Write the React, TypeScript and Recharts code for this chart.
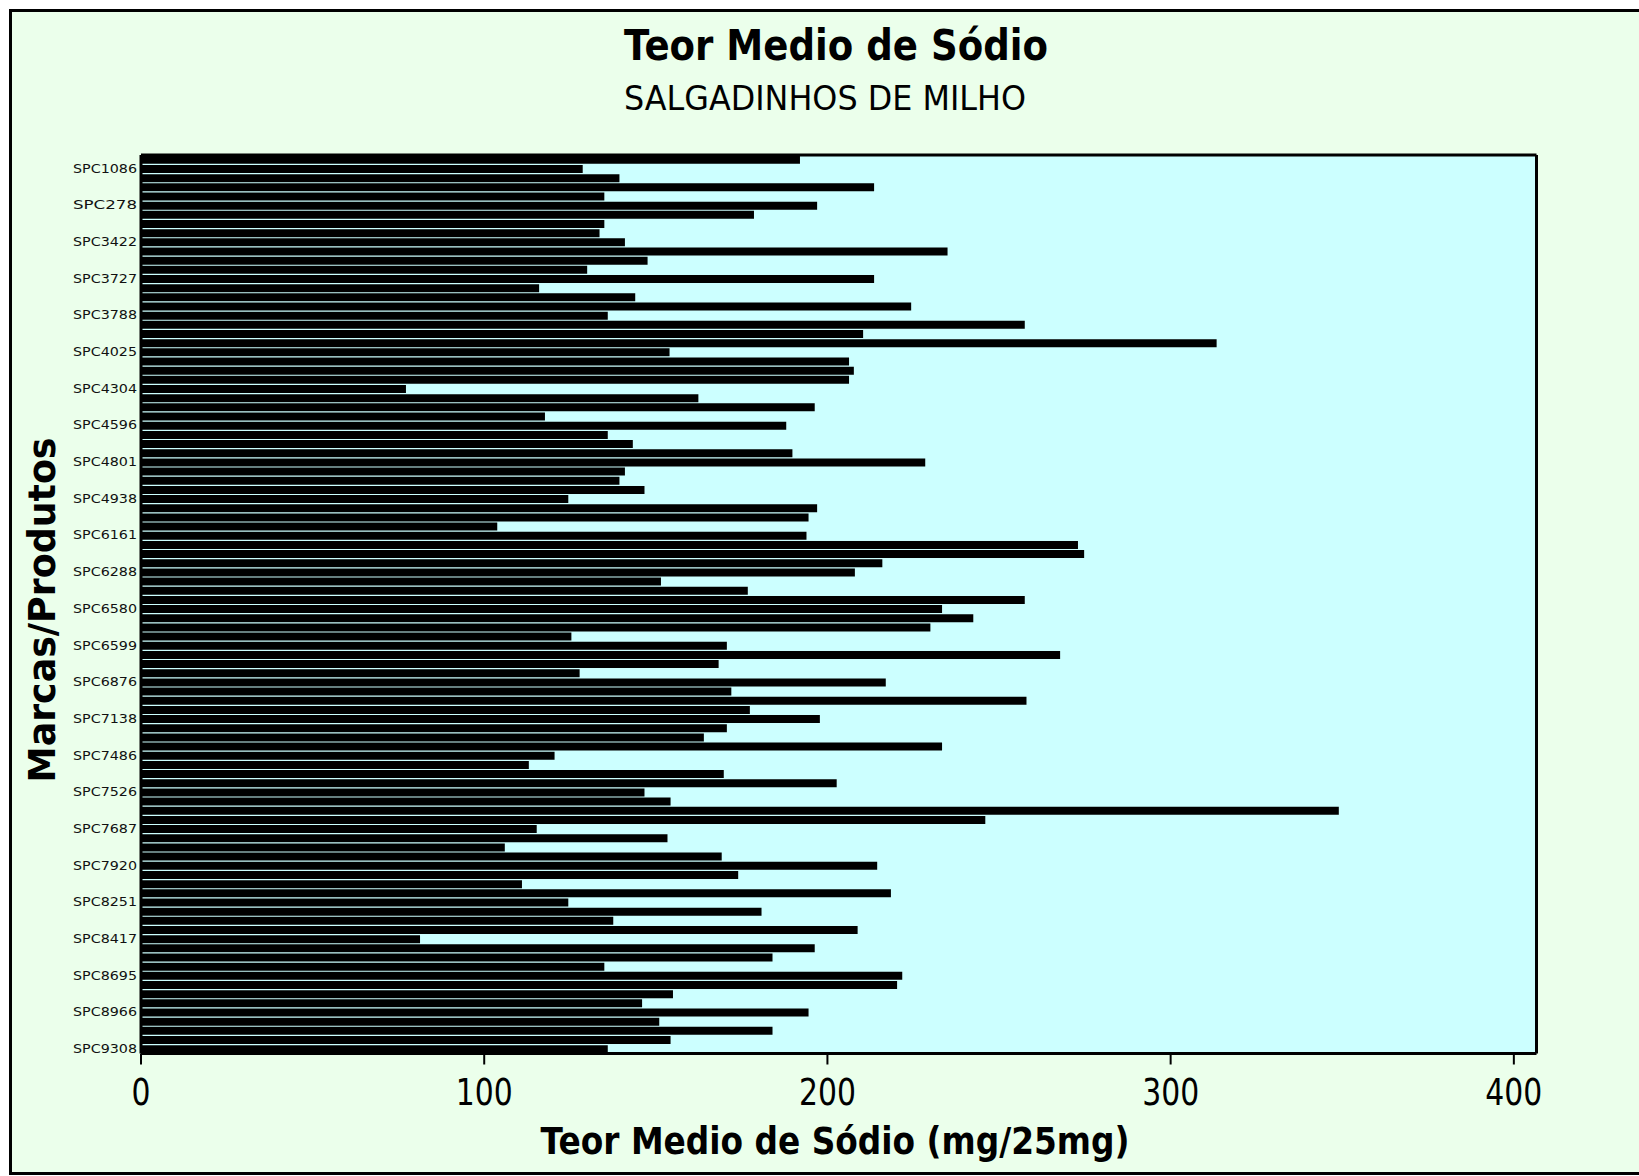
import React from "react";
import {
  BarChart,
  Bar,
  XAxis,
  YAxis,
  CartesianGrid,
  Tooltip,
} from "recharts";

// teor medio de sodio, um valor por produto, de cima para baixo
const sodio = [
  192, 128.7, 139.4, 213.6, 135, 197, 178.6, 135, 133.6, 141,
  235, 147.6, 130, 213.6, 116, 144, 224.4, 136, 257.5, 210.4,
  313.4, 154, 206.3, 207.7, 206.3, 77.2, 162.4, 196.3, 117.7, 188,
  136, 143.3, 189.8, 228.5, 141, 139.4, 146.7, 124.5, 197, 194.5,
  103.8, 193.9, 273, 274.8, 216, 208, 151.5, 176.8, 257.5, 233.4,
  242.5, 230, 125.4, 170.7, 267.8, 168.3, 127.8, 217, 172, 258,
  177.4, 197.8, 170.7, 164, 233.4, 120.5, 113, 169.8, 202.7, 146.7,
  154.3, 349, 246, 115.3, 153.4, 106, 169.2, 214.5, 174, 111,
  218.5, 124.5, 180.8, 137.6, 208.8, 81.3, 196.3, 184, 135, 221.8,
  220.3, 155, 146, 194.5, 151, 184, 154.3, 136,
];

// rotulos visiveis do eixo (um a cada quatro produtos, a partir do segundo)
const rotulos = [
  "SPC1086", "SPC278", "SPC3422", "SPC3727", "SPC3788",
  "SPC4025", "SPC4304", "SPC4596", "SPC4801", "SPC4938",
  "SPC6161", "SPC6288", "SPC6580", "SPC6599", "SPC6876",
  "SPC7138", "SPC7486", "SPC7526", "SPC7687", "SPC7920",
  "SPC8251", "SPC8417", "SPC8695", "SPC8966", "SPC9308",
];

const xTicks = [0, 100, 200, 300, 400];

const data = sodio.map((v, i) => ({ id: i, sodio: v }));

const FONT = "'DejaVu Sans', Verdana, sans-serif";
const borda = { stroke: "#000", strokeWidth: 3 };

function rotuloDe(i: number) {
  return i % 4 === 1 ? rotulos[(i - 1) / 4] : "";
}

function YTick(props: any) {
  const { x, y, payload } = props;
  const txt = rotuloDe(payload.value);
  if (!txt) return <g />;
  return (
    <text
      x={x}
      y={y + 4}
      textAnchor="end"
      fontFamily={FONT}
      fontSize={12}
      fill="#111"
      textLength={64}
      lengthAdjust="spacingAndGlyphs"
    >
      {txt}
    </text>
  );
}

function XTick(props: any) {
  const { x, y, payload } = props;
  const s = String(payload.value);
  return (
    <text
      x={x}
      y={y + 38}
      textAnchor="middle"
      fontFamily={FONT}
      fontSize={37}
      fill="#000"
      textLength={19 * s.length}
      lengthAdjust="spacingAndGlyphs"
    >
      {s}
    </text>
  );
}

export default function App() {
  return (
    <div
      style={{
        position: "absolute",
        left: 0,
        top: 0,
        width: 1639,
        height: 1176,
        background: "#fff",
        overflow: "hidden",
      }}
    >
      <div
        style={{
          position: "absolute",
          left: 9,
          top: 9,
          width: 1630,
          height: 1166,
          boxSizing: "border-box",
          borderTop: "3px solid #000",
          borderLeft: "3px solid #000",
          borderBottom: "3px solid #000",
          background: "#EBFFEB",
        }}
      />
      <div style={{ position: "absolute", left: 0, top: 0 }}>
        <BarChart
          width={1639}
          height={1176}
          data={data}
          layout="vertical"
          margin={{ top: 154, right: 101.5, bottom: 62.5, left: 0 }}
          barCategoryGap="9%"
        >
          <CartesianGrid
            fill="#CCFFFF"
            stroke="none"
            horizontal={false}
            vertical={false}
          />
          <XAxis
            type="number"
            dataKey="sodio"
            domain={[0, 406.6]}
            ticks={xTicks}
            allowDataOverflow
            height={60}
            axisLine={borda}
            tickLine={{ stroke: "#000", strokeWidth: 2 }}
            tickSize={11}
            tick={<XTick />}
          />
          <XAxis
            xAxisId="top"
            type="number"
            orientation="top"
            domain={[0, 406.6]}
            height={1}
            tick={false}
            tickLine={false}
            axisLine={borda}
          />
          <YAxis
            type="category"
            dataKey="id"
            width={141}
            interval={0}
            axisLine={borda}
            tickLine={false}
            tickSize={0}
            tickMargin={4}
            tick={<YTick />}
          />
          <YAxis
            yAxisId="right"
            type="category"
            dataKey="id"
            orientation="right"
            width={1}
            tick={false}
            tickLine={false}
            axisLine={borda}
          />
          <Tooltip
            cursor={false}
            labelFormatter={(l: any) => rotuloDe(l) || `#${l}`}
          />
          <Bar dataKey="sodio" fill="#000" isAnimationActive={false} />
        </BarChart>
      </div>
      <svg
        width={1639}
        height={1176}
        style={{ position: "absolute", left: 0, top: 0, pointerEvents: "none" }}
      >
        <text
          x={836}
          y={60}
          textAnchor="middle"
          fontFamily={FONT}
          fontWeight="bold"
          fontSize={43}
          textLength={424}
          lengthAdjust="spacingAndGlyphs"
        >
          Teor Medio de Sódio
        </text>
        <text
          x={825}
          y={110}
          textAnchor="middle"
          fontFamily={FONT}
          fontSize={34}
          textLength={402}
          lengthAdjust="spacingAndGlyphs"
        >
          SALGADINHOS DE MILHO
        </text>
        <text
          x={835}
          y={1154}
          textAnchor="middle"
          fontFamily={FONT}
          fontWeight="bold"
          fontSize={37}
          textLength={589}
          lengthAdjust="spacingAndGlyphs"
        >
          Teor Medio de Sódio (mg/25mg)
        </text>
        <text
          transform="translate(55, 610) rotate(-90)"
          textAnchor="middle"
          fontFamily={FONT}
          fontWeight="bold"
          fontSize={37}
          textLength={345}
          lengthAdjust="spacingAndGlyphs"
        >
          Marcas/Produtos
        </text>
      </svg>
    </div>
  );
}
